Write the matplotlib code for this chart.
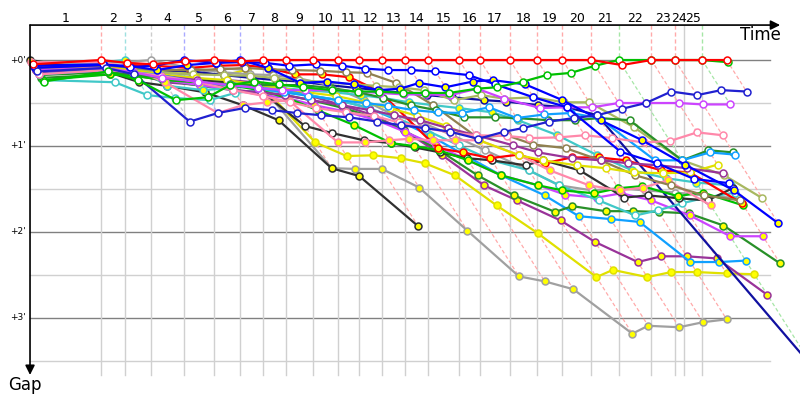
import matplotlib.pyplot as plt

N = None

# leader lap crossing times (s from start), laps 1..26
lap_end = [78, 105, 133, 170, 203, 232, 257, 282, 312, 340, 363, 388, 413,
           439, 473, 496, 529, 559, 587, 619, 649, 685, 711, 721, 741, 768]
lap_labels = [str(i) for i in range(1, 26)]
lap_leader = (['red', 'cyan', 'gray', 'blue', 'red', 'blue'] + ['red'] * 14
              + ['green', 'red', 'red', None, 'green', 'red'])

# gap to leader (s) at each lap, index 0 = start
red_w = [3, 0, 2, 3, 1, 0, 1, 0, 0, 0, 0, 0, 0, 0, 0, 0, 0, 0, 0, 0, 0, 3.5, 0, 0, N, 0, 0]
green_w = [15, 8, 14, 28, 26, 17.5, 15, 17, 19, 21, 22, 22, 23, 23, 23, 20, 19, 15, 10.5, 9, 4, 0, 0, 0, N, 0, 1.5]
blue_a = [4, 3, 5, 4, 0, 2, 1.5, 2, 4, 3, 4, 6, 7, 7, 8, 10.5, 17, 26, 33, 64, 72, 83, 86]
blue_b = [5.5, 3.5, 4, 7, 3.5, 2, 0, 5.5, 16, 15, 17, 21, 20, 16, 19, 15, 14, 17, 28, 42, 56, 73, 91, 114]
blue_c = [8, 5.5, 10, 43, 37, 33.5, 35, 37, 38.5, 40, 43, 45.5, 47.5, 50, 55, 50, 47.5, 43, 40.5, 38.5, 34, 30, 22, 24.5, N, 21, 22]
navy_y = [4, 3.5, 5.5, 7, 8, 10.5, 12.5, 14, 15, 17.5, 19.5, 21, 23, 24.5, 26, 28, 29, 31.5, 33, 38.5, N, 216]
violet_w = [7, 5.5, 8.5, 12.5, 15, 17.5, 19.5, 21, 21, 21, 22, 23, 24, 24, 24.5, 20, 27, 33.5, 33, 33, 30, 30, 30, 31, N, 31]
violet_y = [10, 7, 10, 14, 17.5, 21, 24.5, 26.5, 31.5, 36, 42, 50, 59.5, 70, 80.5, 87.5, 94, 96, 93, 98, 108.5, 123, 123]
pink_w = [10, 7, 8.5, 11, 15.5, 21, 25, 29.5, 33.5, 36.5, 39, 43.5, 47.5, 50.5, 52.5, 53, 54.5, 54, 52.5, 54.5, 57.5, 56.5, 50.5, 52.5]
pink_y = [1.5, 1.5, 5.5, 15.5, 37, 31.5, 29.5, 28, 57.5, 57.5, 56, 55, 56, 56, 56, 66.5, 77, 87.5, 91, 89, 84, 101.5]
ltblue_w = [10, 7, 8.5, 10.5, 15.5, 17.5, 19.5, 22.5, 25, 28, 30, 32, 35, 36.5, 37, 33, 40.5, 38, 37, 40.5, 70, 70, 64.5, 66]
ltblue_y = [7, 5, 7, 10, 12.5, 15.5, 18, 21, 24.5, 28, 33.5, 42, 52.5, 66.5, 80.5, 94.5, 109, 111, 113, 141, 141, 140]
dkgreen_w = [10.5, 8.5, 10, 12.5, 15.5, 17, 17.5, 17.5, 17.5, 19.5, 22.5, 26.5, 31.5, 35, 40, 40, 40.5, 42, 42, 40.5, 42, 70, 63, 64.5]
dkgreen_y = [12.5, 10, 11, 14, 18, 21, 22.5, 24.5, 28, 33.5, 40.5, 49, 63, 80.5, 94.5, 106, 102, 105.5, 105.5, 106, 107, 115.5, 142]
ltolive_w = [7, 5.5, 7, 8.5, 10, 10.5, 11, 12.5, 14, 15.5, 17, 18, 19, 21, 28, 24.5, 27, 26, 29.5, 29.5, 47, 70, 80.5, 96.5]
olive_w = [5.5, 4, 5.5, 7, 7, 6.5, 5.5, 6.5, 7, 7.5, 8.5, 9, 16, 31.5, 54, 52.5, 59, 61.5, 70, 80.5, 87.5, 94.5, 98]
yellow_w = [7, 5.5, 7, 10, 12.5, 14, 17, 19.5, 22.5, 25, 29.5, 33.5, 39, 46, 56, 66.5, 70, 73.5, 75.5, 78.5, 79, 78.5, 73]
yellow_y = [5.5, 3.5, 5.5, 7, 8.5, 10.5, 7, 57.5, 67, 66.5, 68.5, 72, 80.5, 101.5, 121, 151.5, 146.5, 151.5, 148, 148, 149, 149.5]
dkpurple_w = [8.5, 7, 10, 11, 14, 21, 22.5, 24.5, 28, 31.5, 35, 38.5, 42, 47.5, 52.5, 59.5, 64.5, 68.5, 70, 72, 73.5, 75.5, 79]
dkpurple_y = [7, 5.5, 8.5, 15.5, 17.5, 14, 15.5, 19.5, 24.5, 31.5, 38.5, 49, 66.5, 87.5, 98, 112, 127, 141, 137, 137, 138.5, 164]
cyan_w = [14, 15.5, 24.5, 26.5, 28, 23, 21, 22.5, 24.5, 28, 33.5, 40.5, 49, 59.5, 70, 77, 87.5, 98, 108.5, 105, 100, 96, 92.5]
cyan_y = [2, 1.5, 0, 18, 21, 19.5, 18, 19.5, 21, 22.5, 24.5, 26.5, 29.5, 31.5, 33.5, 36.5, 42, 52.5, 66.5, 77, 82.5, 85.5, 87.5]
black_w = [2, 5.5, 10, 12.5, 14, 15.5, 21, 46, 51, 56, 58, 61, 64.5, 68.5, 70, 73.5, 70, 77, 96, 94.5, 96.5, 98, 89.5]
black_y = [0, 8.5, 15.5, 18, 22.5, 31.5, 42, 75.5, 81, 116]
gray_w = [4, 2, 1.5, 0, 5.5, 8.5, 10, 10.5, 12.5, 17.5, 28, 38.5, 43.5, 52.5, 63, 77, 87.5, 91, 89.5, 91, 92.5, 94.5, 96.5]
gray_y = [3, 3.5, 7, 8.5, 10.5, 5.5, 7, 75.5, 76, 76, 89, 119, 151, 154.5, 160, 191, 185.5, 186.5, 183, 181]
red_y = [7, 5.5, 3.5, 4, 5.5, 4, 3.5, 5.5, 10, 10, 12, 21.5, 61.5, 64.5, 68.5, 66, 72, 68, 68, 70, 77, 78.5, 100]
green_y = [14, 10, 11, 14, 15.5, 17.5, 21, 26.5, 35, 45.5, 58, 60, 63, 70, 80.5, 87.5, 91, 93, 89.5, 88, 95, 92.5, 101.5]

Y = '#ffff00'
W = 'white'
drivers = [
    (gray_y, '#a0a0a0', Y), (black_y, '#303030', Y), (yellow_y, '#e0e000', Y),
    (dkpurple_y, '#993399', Y), (ltblue_y, '#10a0ff', Y), (dkgreen_y, '#289028', Y),
    (violet_y, '#cc44ff', Y), (navy_y, '#1010a0', Y), (gray_w, '#a0a0a0', W),
    (cyan_w, '#40c8c8', W), (cyan_y, '#40c8c8', Y), (black_w, '#303030', W),
    (green_y, '#00c000', Y), (red_y, '#ff0000', Y), (pink_y, '#ff88aa', Y),
    (olive_w, '#908050', W), (ltolive_w, '#a8b860', W), (yellow_w, '#e0e000', W),
    (dkpurple_w, '#993399', W), (dkgreen_w, '#289028', W), (ltblue_w, '#10a0ff', W),
    (pink_w, '#ff88aa', W), (violet_w, '#cc44ff', W), (blue_b, '#0000ff', Y),
    (blue_a, '#0000ff', W), (blue_c, '#2020d0', W), (green_w, '#00c000', W),
    (red_w, '#ff0000', W),
]
light = {'red': '#ffaaaa', 'cyan': '#9ee0e0', 'gray': '#cccccc',
         'blue': '#aaaaff', 'green': '#a6e6a6'}

times = [0] + lap_end
top, bottom = -24.4, 219.8

fig = plt.figure(figsize=(8, 4), dpi=100)
ax = fig.add_axes([0, 0, 1, 1])
ax.set_xlim(-33.1, 848.9)
ax.set_ylim(237.3, -41.9)
ax.axis('off')

# gap grid
for g in [30, 90, 150, 210]:
    ax.plot([0, 815.9], [g, g], color='#d0d0d0', lw=1, zorder=0)
for g in [0, 60, 120, 180]:
    ax.plot([0, 815.9], [g, g], color='#808080', lw=1, zorder=0)
    ax.text(-4.4, g, "+%d'" % (g // 60), ha='right', va='center', fontsize=6.5)

# lap lines
for i in range(25):
    t = lap_end[i]
    ax.plot([t, t], [0, bottom], color='#d0d0d0', lw=1, zorder=0)
    c = lap_leader[i]
    if c:
        ax.plot([t, t], [top, 0], color=light[c], lw=1, ls=(0, (3, 2)), zorder=0)
    else:
        ax.plot([t, t], [top, 0], color='#d0d0d0', lw=1, zorder=0)
    ax.text((times[i] + times[i + 1]) / 2, -29.3, lap_labels[i],
            ha='center', va='center', fontsize=9)

for i, t in enumerate(lap_end, start=1):
    gs = [d[0][i] for d in drivers if len(d[0]) > i and d[0][i] is not None]
    if not gs:
        continue
    g = max(gs)
    ax.plot([t, t + g], [0, g], color=light[lap_leader[i - 1]], lw=0.9,
            ls=(0, (3, 2)), zorder=1)

for gaps, col, face in drivers:
    xs = [times[i] + g for i, g in enumerate(gaps) if g is not None]
    ys = [g for g in gaps if g is not None]
    ax.plot(xs, ys, '-o', color=col, lw=1.6, ms=5, mfc=face, mec=col,
            mew=1.1, zorder=3)

# axes arrows
ax.annotate('', xy=(827, top), xytext=(0, top),
            arrowprops=dict(arrowstyle='-|>', color='black', lw=1.2,
                            mutation_scale=14, shrinkA=0, shrinkB=0))
ax.annotate('', xy=(0, bottom), xytext=(0, top),
            arrowprops=dict(arrowstyle='-|>', color='black', lw=1.2,
                            mutation_scale=14, shrinkA=0, shrinkB=0))
ax.text(805, -17.4, 'Time', ha='center', va='center', fontsize=12)
ax.text(-5.5, 226.8, 'Gap', ha='center', va='center', fontsize=12)

fig.savefig('out.png')
